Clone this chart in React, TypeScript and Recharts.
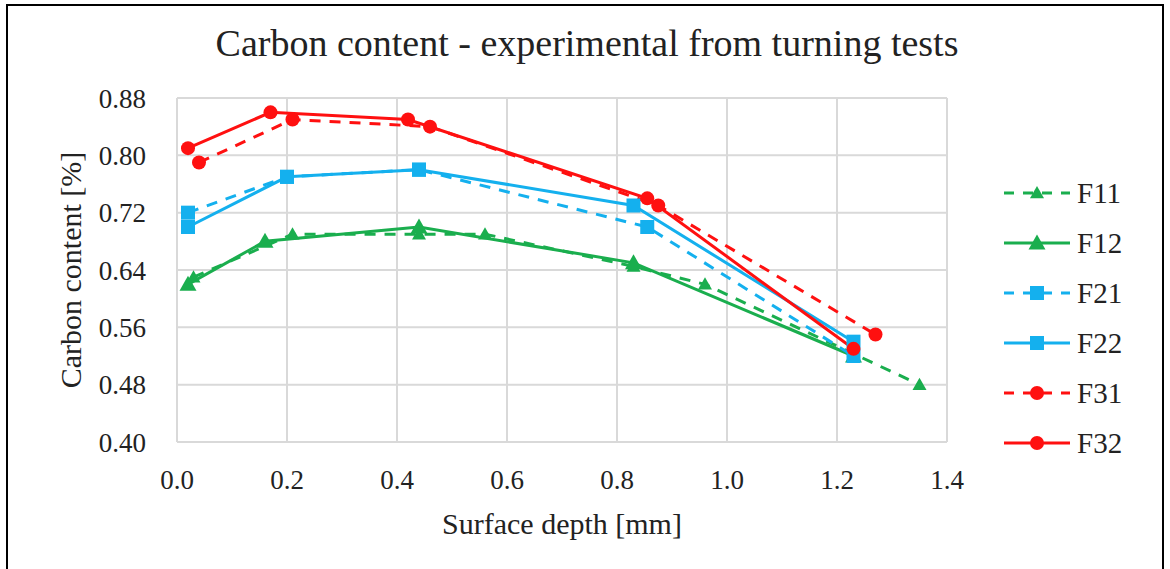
import { CartesianGrid, Line, LineChart, XAxis, YAxis } from "recharts";

const xTicks = [0, 0.2, 0.4, 0.6, 0.8, 1.0, 1.2, 1.4];
const yTicks = [0.4, 0.48, 0.56, 0.64, 0.72, 0.8, 0.88];

const f11Depth = [0.03, 0.21, 0.44, 0.56, 0.83, 0.96, 1.35];
const f11Carbon = [0.63, 0.69, 0.69, 0.69, 0.645, 0.62, 0.48];
const f12Depth = [0.02, 0.16, 0.44, 0.83, 1.23];
const f12Carbon = [0.62, 0.68, 0.7, 0.65, 0.52];
const f21Depth = [0.02, 0.2, 0.44, 0.855, 1.23];
const f21Carbon = [0.72, 0.77, 0.78, 0.7, 0.52];
const f22Depth = [0.02, 0.2, 0.44, 0.83, 1.23];
const f22Carbon = [0.7, 0.77, 0.78, 0.73, 0.54];
const f31Depth = [0.04, 0.21, 0.46, 0.875, 1.27];
const f31Carbon = [0.79, 0.85, 0.84, 0.73, 0.55];
const f32Depth = [0.02, 0.17, 0.42, 0.855, 1.23];
const f32Carbon = [0.81, 0.86, 0.85, 0.74, 0.53];

const GREEN = "#1AAE4E";
const BLUE = "#14B0EE";
const RED = "#FF1010";
const FONT = "'Liberation Serif', 'DejaVu Serif', serif";

type Shape = "triangle" | "smallTriangle" | "square" | "circle";

const toPoints = (xs: number[], ys: number[]) => xs.map((x, i) => ({ x, y: ys[i] }));

const series: { name: string; color: string; dashed: boolean; shape: Shape; data: { x: number; y: number }[] }[] = [
  { name: "F11", color: GREEN, dashed: true, shape: "smallTriangle", data: toPoints(f11Depth, f11Carbon) },
  { name: "F12", color: GREEN, dashed: false, shape: "triangle", data: toPoints(f12Depth, f12Carbon) },
  { name: "F21", color: BLUE, dashed: true, shape: "square", data: toPoints(f21Depth, f21Carbon) },
  { name: "F22", color: BLUE, dashed: false, shape: "square", data: toPoints(f22Depth, f22Carbon) },
  { name: "F31", color: RED, dashed: true, shape: "circle", data: toPoints(f31Depth, f31Carbon) },
  { name: "F32", color: RED, dashed: false, shape: "circle", data: toPoints(f32Depth, f32Carbon) },
];

function Marker({ cx, cy, shape, color }: { cx: number; cy: number; shape: Shape; color: string }) {
  if (cx == null || cy == null) return null;
  if (shape === "circle") return <circle cx={cx} cy={cy} r={7} fill={color} />;
  if (shape === "square") return <rect x={cx - 7} y={cy - 7} width={14} height={14} fill={color} />;
  const s = shape === "triangle" ? 8.5 : 7;
  return <polygon points={`${cx},${cy - s} ${cx + s},${cy + s * 0.75} ${cx - s},${cy + s * 0.75}`} fill={color} />;
}

function LegendBox() {
  return (
    <div style={{ position: "absolute", left: 1000, top: 168, fontFamily: FONT, fontSize: 29, color: "#222" }}>
      {series.map((s) => (
        <div key={s.name} style={{ display: "flex", alignItems: "center", height: 50 }}>
          <svg width={72} height={20}>
            <line
              x1={4}
              x2={70}
              y1={10}
              y2={10}
              stroke={s.color}
              strokeWidth={3}
              strokeDasharray={s.dashed ? "10 9" : undefined}
            />
            <Marker cx={37} cy={10} shape={s.shape} color={s.color} />
          </svg>
          <span style={{ marginLeft: 5 }}>{s.name}</span>
        </div>
      ))}
    </div>
  );
}

export default function App() {
  return (
    <div style={{ position: "absolute", left: 0, top: 0, width: 1170, height: 569, background: "#fff", overflow: "hidden" }}>
      <div
        style={{
          position: "absolute",
          left: 6,
          top: 4,
          width: 1158,
          height: 600,
          border: "2px solid #000",
          boxSizing: "border-box",
        }}
      />
      <div
        style={{
          position: "absolute",
          left: 0,
          width: 1170,
          top: 21,
          textAlign: "center",
          fontFamily: FONT,
          fontSize: 38,
          color: "#222",
        }}
      >
        <span style={{ position: "relative", left: 2 }}>Carbon content - experimental from turning tests</span>
      </div>
      <div style={{ position: "absolute", left: 0, top: 0 }}>
        <LineChart width={1170} height={569} margin={{ top: 98, right: 223, left: 97, bottom: 97 }}>
          <CartesianGrid stroke="#D9D9D9" strokeWidth={2} />
          <XAxis
            type="number"
            dataKey="x"
            domain={[0, 1.4]}
            ticks={xTicks}
            tickFormatter={(v: number) => v.toFixed(1)}
            axisLine={false}
            tickLine={false}
            tick={{ fontFamily: FONT, fontSize: 27, fill: "#222" }}
            tickMargin={22}
            height={30}
            allowDataOverflow
            label={{ value: "Surface depth [mm]", position: "insideBottom", offset: -62, fontFamily: FONT, fontSize: 30, fill: "#222" }}
          />
          <YAxis
            type="number"
            dataKey="y"
            domain={[0.4, 0.88]}
            ticks={yTicks}
            tickFormatter={(v: number) => v.toFixed(2)}
            axisLine={false}
            tickLine={false}
            tick={{ fontFamily: FONT, fontSize: 27, fill: "#222" }}
            tickMargin={25}
            width={80}
            allowDataOverflow
            label={{
              value: "Carbon content [%]",
              angle: -90,
              position: "insideLeft",
              offset: -27,
              style: { textAnchor: "middle" },
              fontFamily: FONT,
              fontSize: 30,
              fill: "#222",
            }}
          />
          {series.map((s) => (
            <Line
              key={s.name}
              data={s.data}
              dataKey="y"
              name={s.name}
              type="linear"
              stroke={s.color}
              strokeWidth={3}
              strokeDasharray={s.dashed ? "11 9" : undefined}
              dot={(p: any) => <Marker key={`${s.name}-${p.index}`} cx={p.cx} cy={p.cy} shape={s.shape} color={s.color} />}
              activeDot={false}
              isAnimationActive={false}
            />
          ))}
        </LineChart>
      </div>
      <LegendBox />
    </div>
  );
}
